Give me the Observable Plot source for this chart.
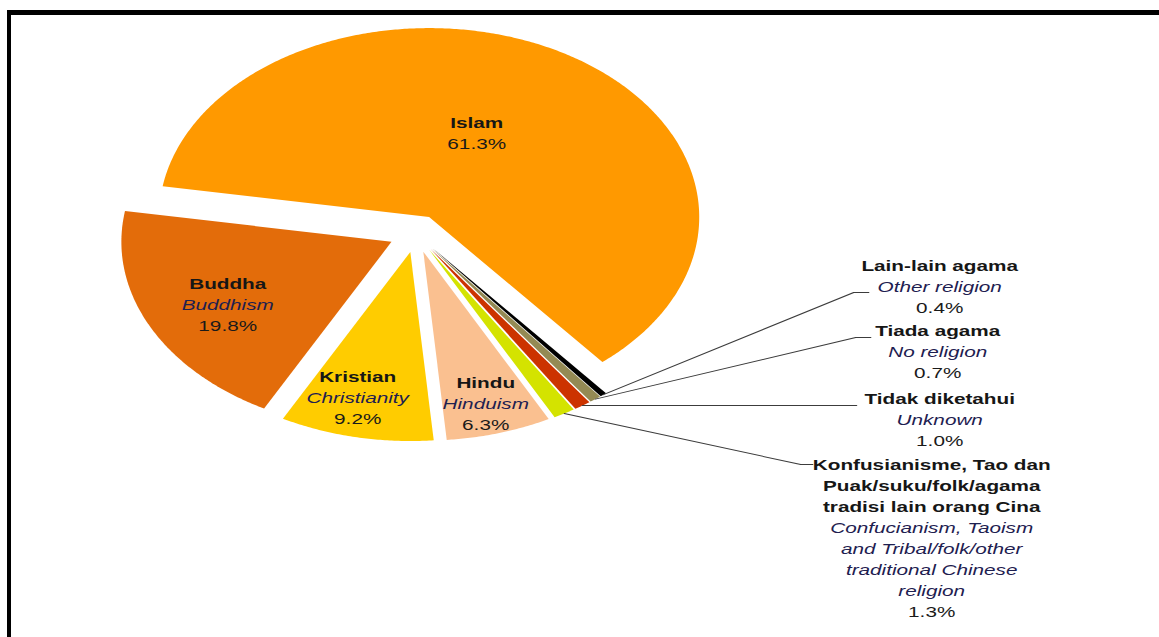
<!DOCTYPE html>
<html>
<head>
<meta charset="utf-8">
<script src="https://cdn.jsdelivr.net/npm/d3@7"></script>
<script src="https://cdn.jsdelivr.net/npm/@observablehq/plot@0.6"></script>
<style>
  html, body { margin: 0; padding: 0; background: #fff; width: 1159px; height: 637px; overflow: hidden; }
  #frame { position: absolute; left: 7px; top: 10px; width: 1300px; height: 800px;
           border-top: 5px solid #000; border-left: 4px solid #000; }
  #chart { position: absolute; left: 0; top: 0; transform-origin: 0 0; }
</style>
</head>
<body>
<div id="frame"></div>
<div id="chart"></div>
<script>
// ---------------- DATA ----------------
const categories = ["Islam", "Buddha", "Kristian", "Hindu", "Konfusianisme", "Tidak diketahui", "Tiada agama", "Lain-lain agama"];
const malayLines = [
  ["Islam"],
  ["Buddha"],
  ["Kristian"],
  ["Hindu"],
  ["Konfusianisme, Tao dan", "Puak/suku/folk/agama", "tradisi lain orang Cina"],
  ["Tidak diketahui"],
  ["Tiada agama"],
  ["Lain-lain agama"]
];
const englishLines = [
  [],
  ["Buddhism"],
  ["Christianity"],
  ["Hinduism"],
  ["Confucianism, Taoism", "and Tribal/folk/other", "traditional Chinese", "religion"],
  ["Unknown"],
  ["No religion"],
  ["Other religion"]
];
const shares = [61.3, 19.8, 9.2, 6.3, 1.3, 1.0, 0.7, 0.4];

// ---------------- STYLES ----------------
const palette = ["#FF9900", "#E36C0A", "#FFCC00", "#FAC090", "#D4E300", "#CC3300", "#948A54", "#000000"];

// ---------------- LAYOUT ----------------
const PAGE_W = 1159, H = 637;
const W0 = 811;                 // un-stretched drawing width
const SX = PAGE_W / W0;         // horizontal stretch of the whole picture
const CX = 415 / SX, CY = 233;  // pie centre (pixels, un-stretched)
const R = 189;                  // pie radius (pixels)
const explode = 0.1;            // explosion, fraction of radius
const startDeg = 140.1;         // angle (clockwise from 12 o'clock) where Islam's slice ends
const lineH = 21;               // label line height, px
// label centres, in page pixels
const labelCenters = [[476, 133.5], [227, 305], [357, 397.5], [485, 403.5], [931, 538.5], [939, 420], [937, 352], [939, 287]];
// leader line bend / end points, in page pixels (null = label inside slice)
const leaderPoints = [null, null, null, null, [[800, 464], [812, 464]], [[856, 405]], [[855, 337], [870, 337]], [[853, 292], [868, 292]]];

const toData = ([px, py]) => [(px / SX - CX) / R, (CY - py) / R];
const rad = d => d * Math.PI / 180;

// ---------------- GEOMETRY ----------------
const arcs = d3.pie().sort(null).value(d => d)
  .startAngle(rad(startDeg)).endAngle(rad(startDeg - 360))(shares);

const slicePts = [];
const leaderPts = [];
arcs.forEach((a, i) => {
  const a0 = Math.min(a.startAngle, a.endAngle), a1 = Math.max(a.startAngle, a.endAngle);
  const b = (a0 + a1) / 2;
  const ox = explode * Math.sin(b), oy = explode * Math.cos(b);
  const name = categories[i], color = palette[i];
  slicePts.push({name, color, x: ox, y: oy});
  const n = Math.max(2, Math.ceil((a1 - a0) / rad(0.5)));
  for (let k = 0; k <= n; k++) {
    const t = a0 + (a1 - a0) * k / n;
    slicePts.push({name, color, x: ox + Math.sin(t), y: oy + Math.cos(t)});
  }
  slicePts.push({name, color, x: ox, y: oy});
  if (leaderPoints[i]) {
    leaderPts.push({name, x: ox + Math.sin(b), y: oy + Math.cos(b)});
    for (const p of leaderPoints[i]) {
      const [x, y] = toData(p);
      leaderPts.push({name, x, y});
    }
  }
});

const fmt = d3.format(".1f");
const textRows = [];
categories.forEach((c, i) => {
  const rows = [
    ...malayLines[i].map(t => ({t, kind: "bold"})),
    ...englishLines[i].map(t => ({t, kind: "italic"})),
    {t: fmt(shares[i]) + "%", kind: "normal"}
  ];
  const [cx, cy] = labelCenters[i];
  rows.forEach((r, k) => {
    const py = cy + (k - (rows.length - 1) / 2) * lineH;
    const [x, y] = toData([cx, py]);
    textRows.push({x, y, text: r.t, kind: r.kind});
  });
});

const font = "Liberation Sans, Arial, sans-serif";
const fs = 14.5;

const plot = Plot.plot({
  width: W0,
  height: H,
  margin: 0,
  x: {domain: [(0 - CX) / R, (W0 - CX) / R], range: [0, W0], axis: null},
  y: {domain: [(CY - H) / R, CY / R], range: [H, 0], axis: null},
  color: {type: "identity"},
  style: {background: "transparent", overflow: "visible"},
  marks: [
    Plot.line(slicePts, {x: "x", y: "y", z: "name", fill: "color", stroke: "none", curve: "linear-closed"}),
    Plot.line(leaderPts, {x: "x", y: "y", z: "name", stroke: "#3c3c3c", strokeWidth: 1}),
    Plot.text(textRows.filter(d => d.kind === "bold"), {x: "x", y: "y", text: "text", fontFamily: font, fontSize: fs, fontWeight: "bold", fill: "#161616"}),
    Plot.text(textRows.filter(d => d.kind === "italic"), {x: "x", y: "y", text: "text", fontFamily: font, fontSize: fs, fontStyle: "italic", fill: "#1e2050"}),
    Plot.text(textRows.filter(d => d.kind === "normal"), {x: "x", y: "y", text: "text", fontFamily: font, fontSize: fs, fill: "#1a1a1a"})
  ]
});

const holder = document.getElementById("chart");
holder.style.transform = `scaleX(${SX})`;
holder.appendChild(plot);
</script>
</body>
</html>
